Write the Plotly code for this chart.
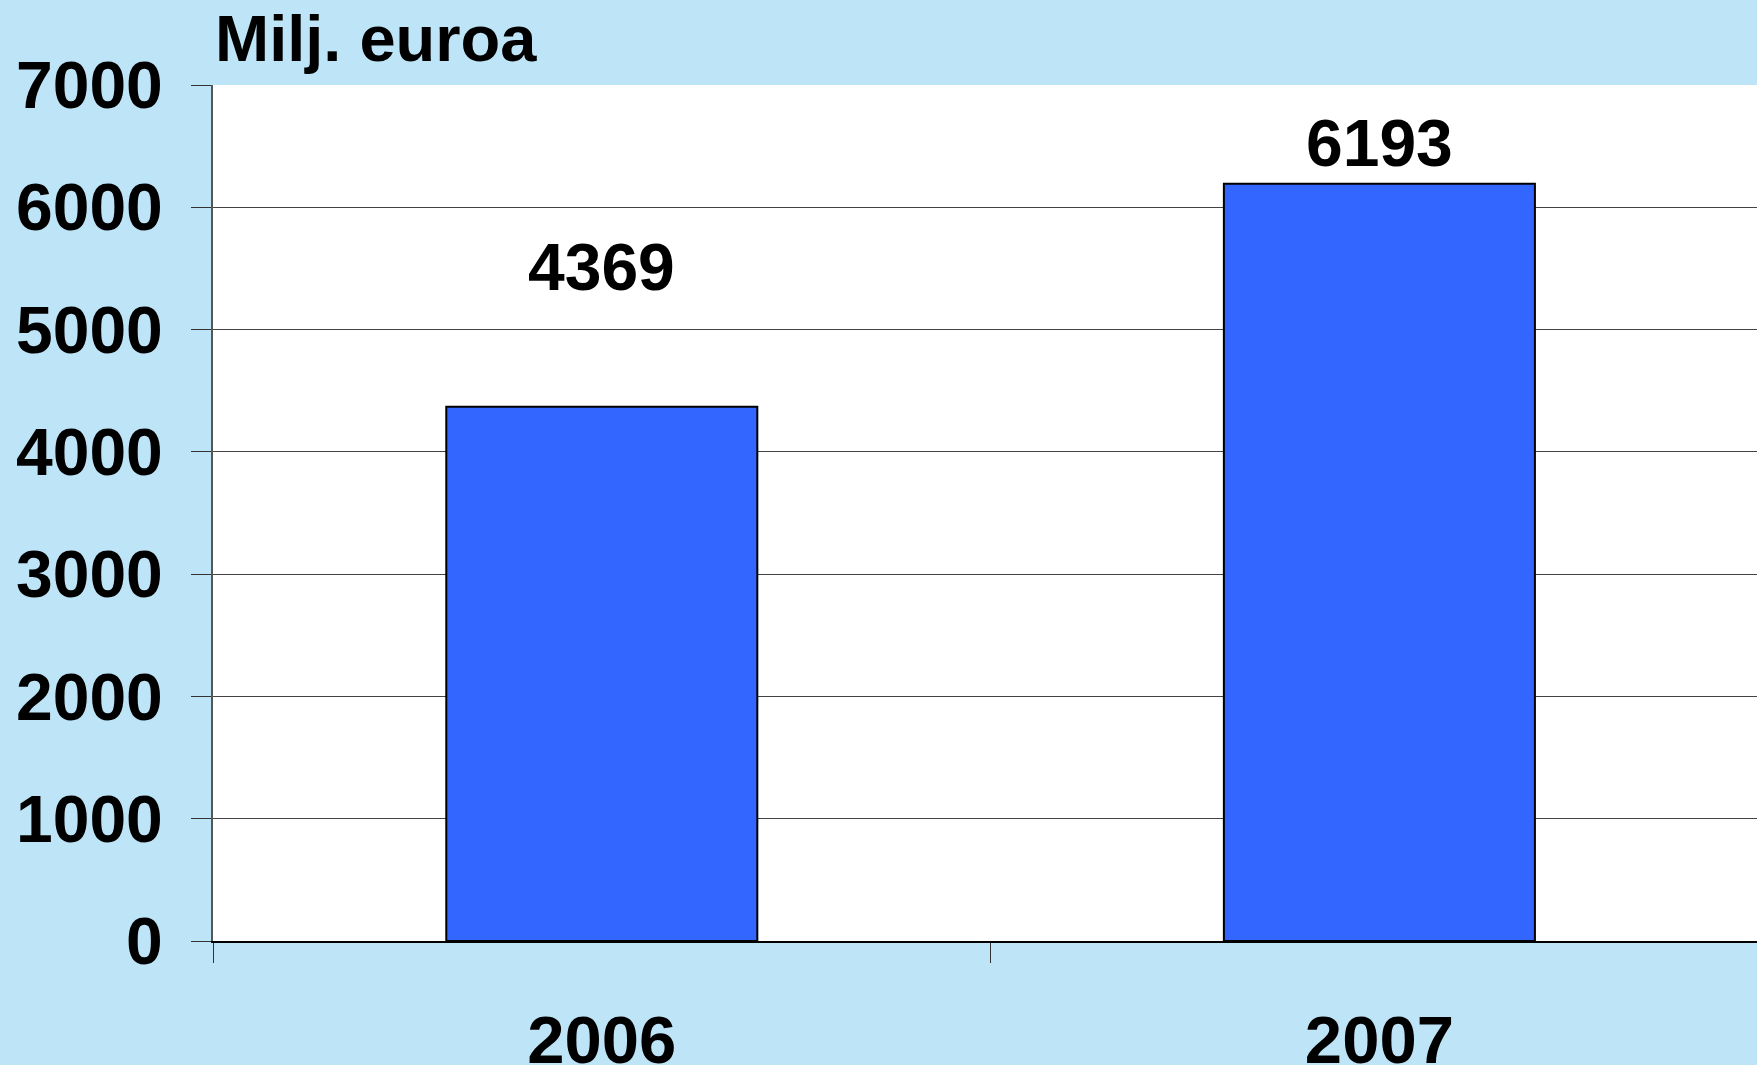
import plotly.graph_objects as go

years = ["2006", "2007"]
values = [4369, 6193]
label_texts = ["4369", "6193"]
label_offsets = [109, 10]  # vertical gap (px) between bar top and its label
y_tick_values = [0, 1000, 2000, 3000, 4000, 5000, 6000, 7000]
unit_title = "Milj. euroa"

FONT = "Liberation Sans, Arial, sans-serif"

fig = go.Figure()
fig.add_trace(go.Bar(
    x=years, y=values, width=0.4,
    marker=dict(color="#3366FF", line=dict(color="#000000", width=2)),
    hoverinfo="x+y", showlegend=False,
))

for i, (v, t, off) in enumerate(zip(values, label_texts, label_offsets)):
    fig.add_annotation(x=i, y=v, text="<b>%s</b>" % t, showarrow=False,
                       xref="x", yref="y", yanchor="bottom", yshift=off - 8,
                       font=dict(family=FONT, size=66, color="#000000"))

fig.add_annotation(x=0, y=1, xref="paper", yref="paper", xanchor="left",
                   yanchor="bottom", yshift=8, text="<b>%s</b>" % unit_title,
                   showarrow=False, font=dict(family=FONT, size=65, color="#000000"))

fig.update_layout(
    width=1757, height=1065,
    margin=dict(l=213, r=0, t=85, b=124, autoexpand=False),
    paper_bgcolor="#BEE5F7",
    plot_bgcolor="#FFFFFF",
    bargap=0.6,
    font=dict(family=FONT, color="#000000"),
)

fig.update_xaxes(
    type="category", range=[-0.5, 1.4856], automargin=False,
    tickson="boundaries", ticks="outside", ticklen=20, tickwidth=1, tickcolor="#333333",
    showline=True, linecolor="#000000", linewidth=2,
    showgrid=False, ticklabelstandoff=40,
    tickfont=dict(family=FONT, size=67, color="#000000", weight="bold"),
)
fig.update_yaxes(
    range=[0, 7000], tickvals=y_tick_values, automargin=False,
    ticks="outside", ticklen=20, tickwidth=1, tickcolor="#333333",
    showline=True, linecolor="#555555", linewidth=2,
    showgrid=True, gridcolor="#444444", gridwidth=1,
    zeroline=False, ticklabelstandoff=15,
    tickfont=dict(family=FONT, size=66, color="#000000", weight="bold"),
)

fig.write_html("out.html", config={"displayModeBar": False},
               post_script="document.body.style.margin='0';document.body.style.padding='0';")
